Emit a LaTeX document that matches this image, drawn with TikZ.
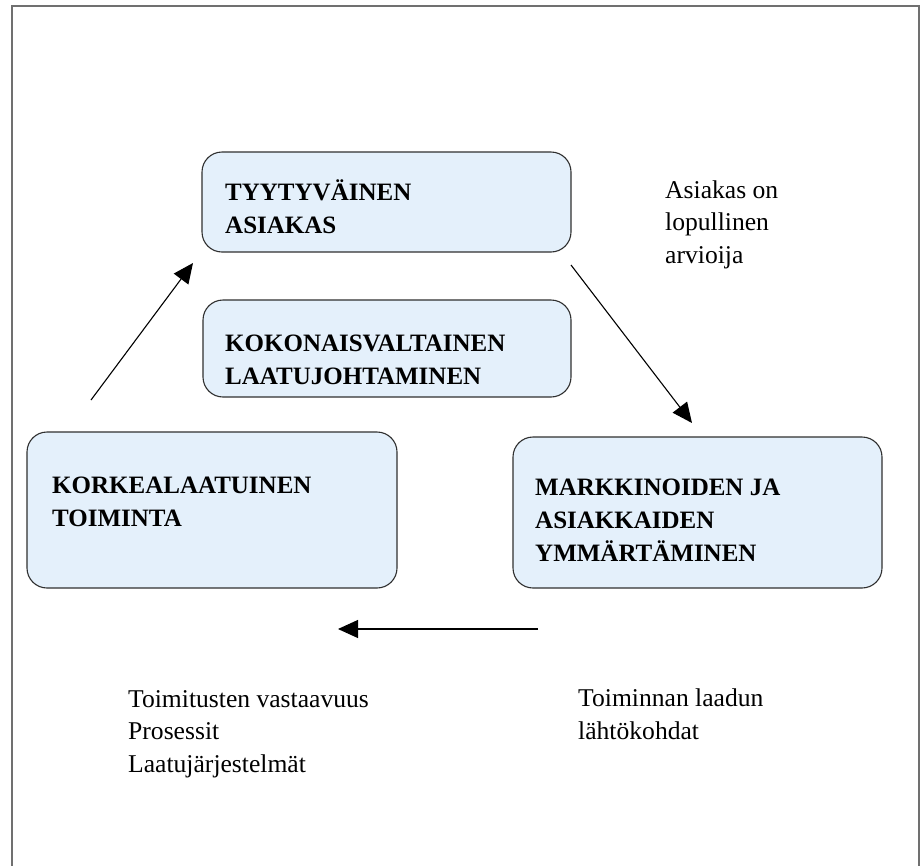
\documentclass[tikz,border=0pt]{standalone}
\usepackage{fontspec}
\setmainfont{Liberation Serif}
\usetikzlibrary{arrows.meta}
\definecolor{boxfill}{HTML}{E4F0FB}
\definecolor{boxline}{HTML}{303030}
\definecolor{framegray}{HTML}{707070}
\begin{document}
\begin{tikzpicture}[x=1pt,y=-1pt,
  qbox/.style={draw=boxline,line width=1.1pt,fill=boxfill,rounded corners=20pt},
  boldtxt/.style={anchor=base west,inner sep=0pt,align=left,font=\fontsize{25}{33}\selectfont\bfseries},
  plaintxt/.style={anchor=base west,inner sep=0pt,align=left,font=\fontsize{25.6}{32.5}\selectfont},
  arr/.style={line width=1.1pt,-{Triangle[length=20pt,width=18pt]}}]
\useasboundingbox (0,0) rectangle (923,865);
\draw[framegray,line width=2pt] (12,866) -- (12,6) -- (919,6) -- (919,866);
% boxes
\draw[qbox] (202,152) rectangle (571,252);
\draw[qbox] (203,300) rectangle (571,397);
\draw[qbox] (27,432) rectangle (397,588);
\draw[qbox] (513,437) rectangle (882,588);
% box texts (base = last line)
\node[boldtxt] (t1) at (225,233) {TYYTYVÄINEN\\ASIAKAS};
\node[boldtxt] (t2) at (225,384) {KOKONAISVALTAINEN\\LAATUJOHTAMINEN};
\node[boldtxt] (t3) at (52,526) {KORKEALAATUINEN\\TOIMINTA};
\node[boldtxt] (t4) at (535,561) {MARKKINOIDEN JA\\ASIAKKAIDEN\\YMMÄRTÄMINEN};
% side texts
\node[plaintxt] (n1) at (665,263) {Asiakas on\\lopullinen\\arvioija};
\node[plaintxt] (n2) at (128,772) {Toimitusten vastaavuus\\Prosessit\\Laatujärjestelmät};
\node[plaintxt] (n3) at (578,739) {Toiminnan laadun\\lähtökohdat};
% arrows
\coordinate (a1s) at (91,400);
\coordinate (a1e) at (193,263);
\coordinate (a2s) at (571,265);
\coordinate (a2e) at (692,423);
\coordinate (a3s) at (538,629);
\coordinate (a3e) at (338,629);
\draw[arr] (a1s) -- (a1e);
\draw[arr] (a2s) -- (a2e);
\draw[arr] (a3s) -- (a3e);
\end{tikzpicture}
\end{document}
